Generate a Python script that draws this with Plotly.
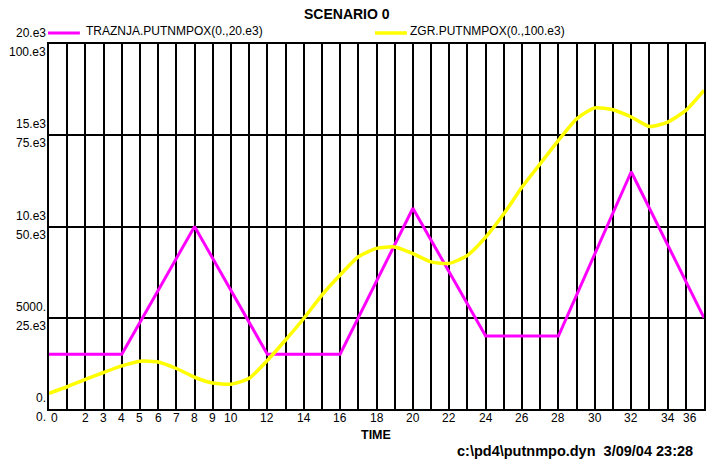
import plotly.graph_objects as go

# --- data -------------------------------------------------------------
# TRAZNJA.PUTNMPOX, scale 0 .. 20e3 (piecewise-linear breakpoints)
traznja_time = [0, 4, 8, 12, 16, 20, 24, 28, 32, 36]
traznja_vals = [3000, 3000, 10000, 3000, 3000, 11000, 4000, 4000, 13000, 5000]

# ZGR.PUTNMPOX, scale 0 .. 100e3, one value per time step
zgr_time = list(range(37))
zgr_vals = [4300, 6100, 8100, 10000, 11800, 13100, 12900, 11100, 8700, 7100,
            6800, 8400, 13300, 18900, 24800, 31200, 36700, 41700, 44000, 44400,
            42600, 40300, 39900, 42100, 47100, 53500, 60800, 67200, 73600, 79500,
            82500, 82000, 80000, 77400, 78600, 81800, 87300]

# axis label texts
x_tick_vals = [0, 2, 3, 4, 5, 6, 7, 8, 9, 10, 12, 14, 16, 18, 20, 22, 24, 26,
               28, 30, 32, 34, 36]
x_tick_text = [str(v) for v in x_tick_vals]
y1_tick_vals = [0, 5000, 10000, 15000, 20000]
y1_tick_text = ["0.", "5000.", "10.e3", "15.e3", "20.e3"]
y2_tick_vals = [0, 25000, 50000, 75000, 100000]
y2_tick_text = ["0.", "25.e3", "50.e3", "75.e3", "100.e3"]

title_text = "SCENARIO 0"
x_title = "TIME"
footer_text = "c:\\pd4\\putnmpo.dyn\u00a0\u00a03/09/04 23:28"
legend1 = "TRAZNJA.PUTNMPOX(0.,20.e3)"
legend2 = "ZGR.PUTNMPOX(0.,100.e3)"

MAGENTA = "#FF00FF"
YELLOW = "#FFFF00"
FONT = "Arial, Liberation Sans, sans-serif"

# --- layout geometry (pixels) ----------------------------------------
W, H = 708, 467
L, R, T, B = 49, 2, 44, 58
PW, PH = W - L - R, H - T - B


def px_x(x):
    return (x - L) / PW


def px_y(y):
    return (H - B - y) / PH


fig = go.Figure()

fig.add_trace(go.Scatter(
    x=traznja_time, y=traznja_vals, mode="lines",
    line=dict(color=MAGENTA, width=3), yaxis="y", showlegend=False,
    cliponaxis=False))

fig.add_trace(go.Scatter(
    x=zgr_time, y=zgr_vals, mode="lines",
    line=dict(color=YELLOW, width=3.5, shape="spline", smoothing=0.6),
    yaxis="y2", showlegend=False, cliponaxis=False))

annotations = []

# left-side value labels: upper row for the 20e3 scale, lower row for 100e3
for v, t in zip(y1_tick_vals, y1_tick_text):
    annotations.append(dict(xref="paper", x=0, yref="y", y=v, text=t,
                            xanchor="right", yanchor="middle", xshift=-1,
                            yshift=11, showarrow=False,
                            font=dict(family=FONT, size=12, color="black")))
for v, t in zip(y2_tick_vals, y2_tick_text):
    annotations.append(dict(xref="paper", x=0, yref="y2", y=v, text=t,
                            xanchor="right", yanchor="middle", xshift=-1,
                            yshift=-8, showarrow=False,
                            font=dict(family=FONT, size=12, color="black")))

# time labels under the axis
for v, t in zip(x_tick_vals, x_tick_text):
    shift = 0
    if v == 0:
        shift = 5
    elif v == 36:
        shift = -14
    annotations.append(dict(xref="x", x=v, yref="paper", y=0, text=t,
                            xanchor="center", yanchor="middle", xshift=shift,
                            yshift=-9, showarrow=False,
                            font=dict(family=FONT, size=12, color="black")))

# title, axis name, footer
annotations.append(dict(xref="paper", x=px_x(348), yref="paper", y=px_y(14),
                        text="<b>%s</b>" % title_text, showarrow=False,
                        xanchor="center", yanchor="middle",
                        font=dict(family=FONT, size=14, color="black")))
annotations.append(dict(xref="paper", x=px_x(377), yref="paper", y=px_y(435),
                        text="<b>%s</b>" % x_title, showarrow=False,
                        xanchor="center", yanchor="middle",
                        font=dict(family=FONT, size=12.5, color="black")))
annotations.append(dict(xref="paper", x=px_x(697), yref="paper", y=px_y(451),
                        text="<b>%s</b>" % footer_text, showarrow=False,
                        xanchor="right", yanchor="middle",
                        font=dict(family=FONT, size=14.5, color="black")))

# legend texts
annotations.append(dict(xref="paper", x=px_x(84), yref="paper", y=px_y(31),
                        text=legend1, showarrow=False, xanchor="left",
                        yanchor="middle",
                        font=dict(family=FONT, size=12, color="black")))
annotations.append(dict(xref="paper", x=px_x(409), yref="paper", y=px_y(31),
                        text=legend2, showarrow=False, xanchor="left",
                        yanchor="middle",
                        font=dict(family=FONT, size=12, color="black")))

shapes = [
    dict(type="line", xref="paper", yref="paper",
         x0=px_x(48), x1=px_x(80), y0=px_y(33), y1=px_y(33),
         line=dict(color=MAGENTA, width=3)),
    dict(type="line", xref="paper", yref="paper",
         x0=px_x(376), x1=px_x(408), y0=px_y(33), y1=px_y(33),
         line=dict(color=YELLOW, width=3.5)),
]

fig.update_layout(
    width=W, height=H,
    margin=dict(l=L, r=R, t=T, b=B, pad=0),
    paper_bgcolor="white", plot_bgcolor="white",
    font=dict(family=FONT, size=12, color="black"),
    showlegend=False,
    xaxis=dict(range=[0, 36], dtick=1, tick0=0, showgrid=True,
               gridcolor="black", gridwidth=2, showticklabels=False,
               ticks="", zeroline=False, showline=True, mirror=True,
               linecolor="black", linewidth=2),
    yaxis=dict(range=[0, 20000], showgrid=False, showticklabels=False,
               ticks="", zeroline=False, showline=True, mirror=True,
               linecolor="black", linewidth=2),
    yaxis2=dict(range=[0, 100000], overlaying="y", dtick=25000, tick0=0,
                showgrid=True, gridcolor="black", gridwidth=2,
                showticklabels=False, ticks="", zeroline=False),
    annotations=annotations,
    shapes=shapes,
)

fig.write_html("out.html")
